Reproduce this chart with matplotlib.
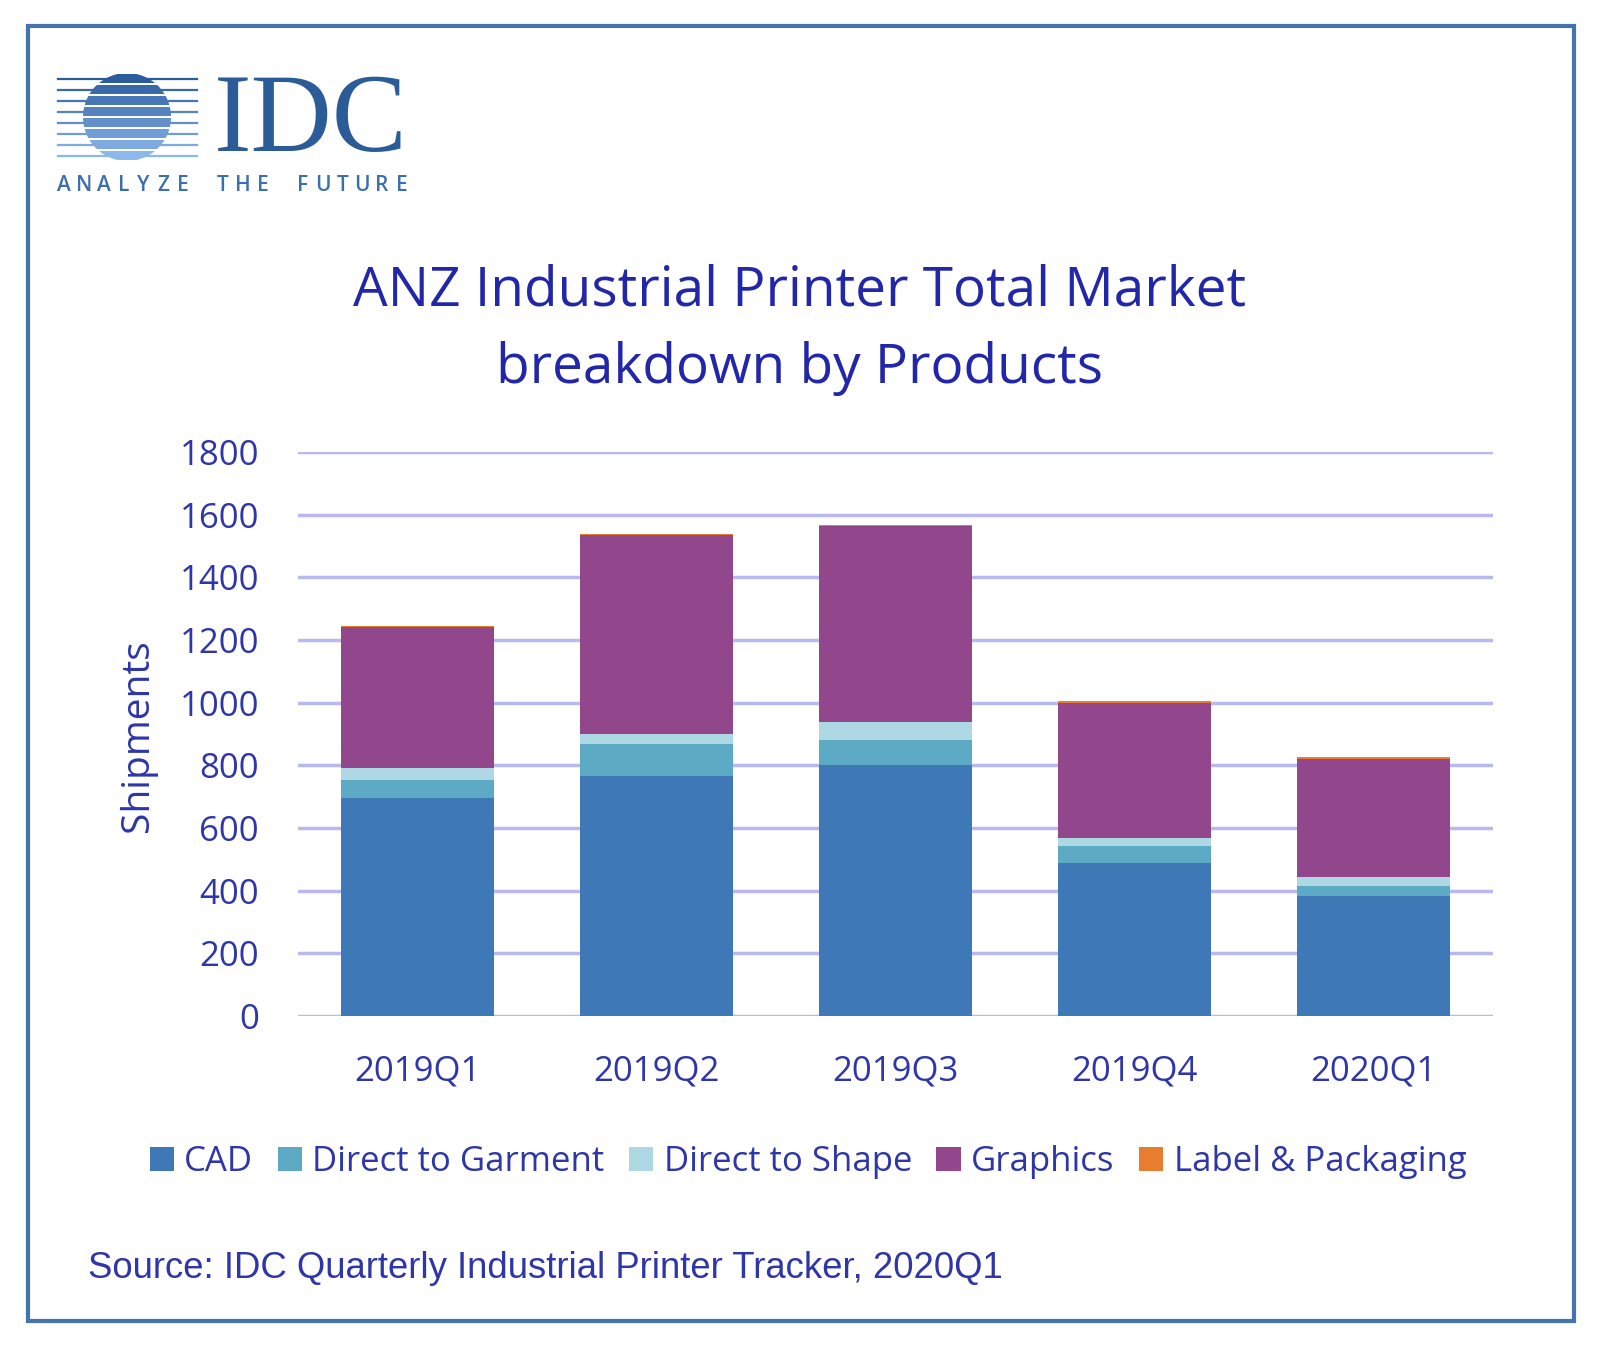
import numpy as np
import matplotlib
matplotlib.use("Agg")
import matplotlib.pyplot as plt
import matplotlib.patches as mpatches

plt.rcParams['font.family'] = ['Open Sans', 'DejaVu Sans']

quarters = ["2019Q1", "2019Q2", "2019Q3", "2019Q4", "2020Q1"]
products = ["CAD", "Direct to Garment", "Direct to Shape", "Graphics", "Label & Packaging"]
cad = [695, 765, 800, 487, 383]
dtg = [58, 102, 81, 57, 32]
dts = [38, 33, 58, 24, 30]
graphics = [450, 635, 624, 432, 375]
label_pack = [5, 2, 5, 5, 5]
yticks = [0, 200, 400, 600, 800, 1000, 1200, 1400, 1600, 1800]

colors = ["#3E78B6", "#5DAAC4", "#ADD8E4", "#92468B", "#E87D2F"]
text_blue = "#2E36A8"
grid_col = "#B9B9F0"

W, H = 1600, 1346
fig = plt.figure(figsize=(W / 100, H / 100), dpi=100)

# overlay in pixel coordinates for frame, logo, titles
bg = fig.add_axes([0, 0, 1, 1], zorder=0)
bg.set_xlim(0, W)
bg.set_ylim(H, 0)
bg.axis("off")
bg.add_patch(mpatches.Rectangle((28, 26), 1546, 1295, fill=False,
                                edgecolor="#4473AE", linewidth=3))

# IDC logo: striped globe
cx, cy, r = 127, 117, 44
circ = mpatches.Circle((cx, cy), r, transform=bg.transData, facecolor="none", edgecolor="none")
bg.add_patch(circ)
n_bands = 8
band_top = cy - r
band_h = 2 * r / n_bands
for i in range(n_bands):
    t = i / (n_bands - 1)
    c = (0.17 + 0.38 * t, 0.36 + 0.36 * t, 0.62 + 0.30 * t)
    rect = mpatches.Rectangle((cx - r - 2, band_top + i * band_h + 1.2), 2 * r + 4, band_h - 2.4,
                              facecolor=c, edgecolor="none")
    bg.add_patch(rect)
    rect.set_clip_path(circ)
    ly = band_top + i * band_h + band_h / 2
    bg.plot([58, 197], [ly, ly], color=c, linewidth=1.6, zorder=0.5)
bg.text(214, 151, "IDC", family=["Liberation Serif", "DejaVu Serif"], fontsize=81,
        color="#2C5C98", ha="left", va="baseline")
tag = "ANALYZE THE FUTURE"
xs = np.linspace(64, 402, len(tag))
for ch, x in zip(tag, xs):
    bg.text(x, 191, ch, fontsize=15, color="#3C6FAE", ha="center", va="baseline",
            fontweight="semibold")

# titles
bg.text(800, 291, "ANZ Industrial Printer Total Market", fontsize=39.5, color="#2226A8",
        ha="center", va="center")
bg.text(800, 368, "breakdown by Products", fontsize=39.5, color="#2226A8",
        ha="center", va="center")
bg.text(88, 1268, "Source: IDC Quarterly Industrial Printer Tracker, 2020Q1",
        family=["Liberation Sans", "DejaVu Sans"], fontsize=26.3, color="#2E36A8",
        ha="left", va="center")
bg.text(138, 736, "Shipments", fontsize=28, color=text_blue, rotation=90,
        ha="center", va="center")

# main chart
ax = fig.add_axes([298 / W, 1 - 1016 / H, (1493 - 298) / W, (1016 - 452) / H], zorder=1)
ax.patch.set_alpha(0)
x = np.arange(len(quarters))
series = [cad, dtg, dts, graphics, label_pack]
bottom = np.zeros(len(quarters))
handles = []
for vals, name, col in zip(series, products, colors):
    b = ax.bar(x, vals, width=0.64, bottom=bottom, color=col, label=name, zorder=3)
    handles.append(b)
    bottom += np.array(vals)

ax.set_xlim(-0.5, len(quarters) - 0.5)
ax.set_ylim(0, 1800)
ax.set_yticks(yticks)
ax.set_xticks(x)
ax.set_xticklabels(quarters)
ax.yaxis.grid(True, color=grid_col, linewidth=2.5, zorder=0)
ax.set_axisbelow(True)
for s in ax.spines.values():
    s.set_visible(False)
ax.tick_params(axis="both", length=0, labelsize=25, labelcolor=text_blue)
ax.tick_params(axis="y", pad=28)
ax.tick_params(axis="x", pad=28)

leg = fig.legend(handles=handles, labels=products, loc="center", ncol=5,
                 bbox_to_anchor=(0.505, 1 - 1162 / H), frameon=False, fontsize=25,
                 handlelength=0.7, handleheight=0.7, handletextpad=0.3, columnspacing=0.7)
for t in leg.get_texts():
    t.set_color(text_blue)

fig.savefig("out.png", dpi=100, facecolor="white")
